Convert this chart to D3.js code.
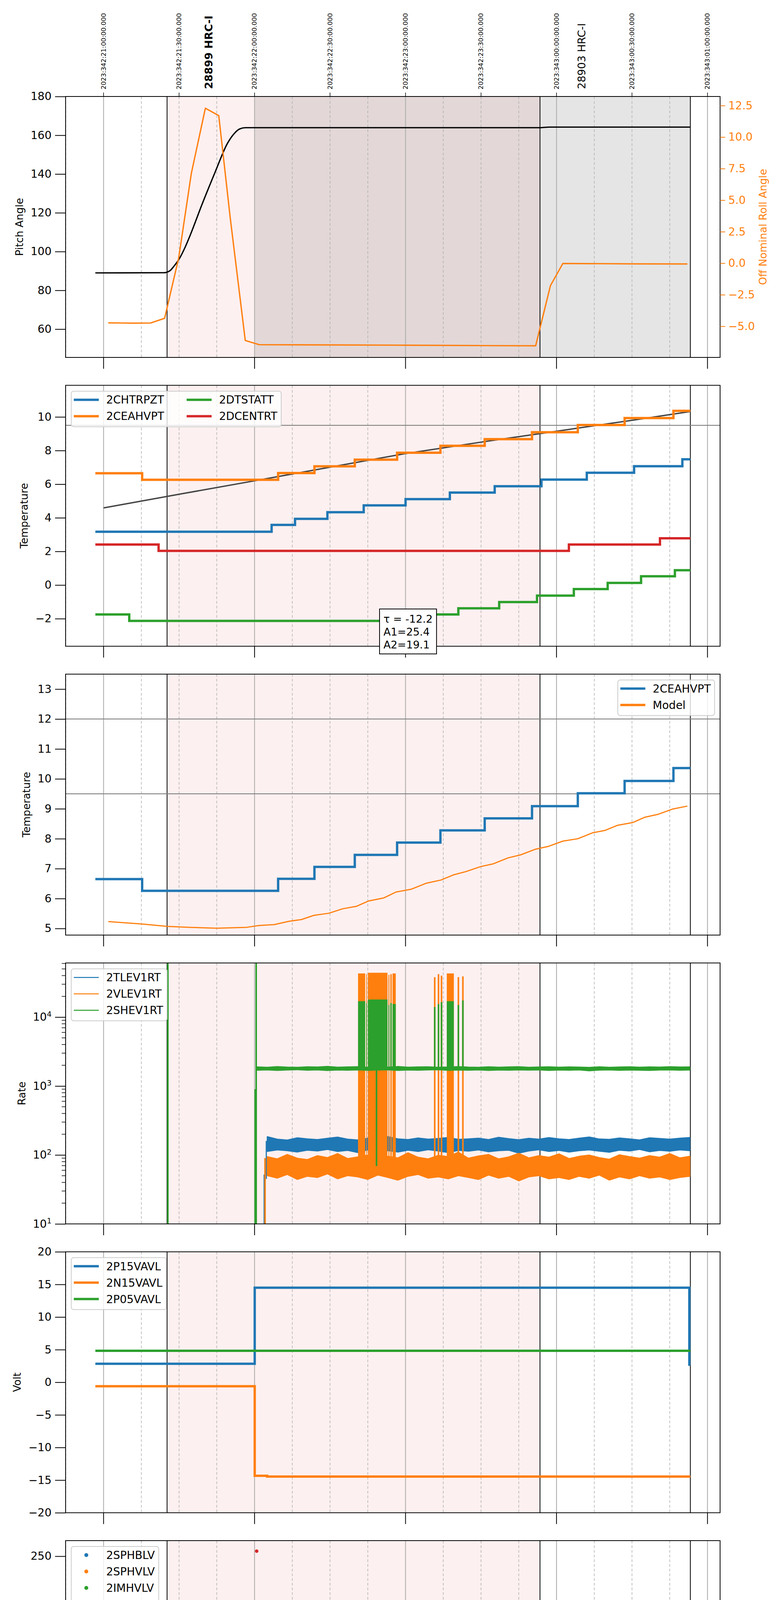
<!DOCTYPE html>
<html>
<head>
<meta charset="utf-8">
<script src="https://cdn.jsdelivr.net/npm/d3@7"></script>
<style>
  body { margin: 0; background: #fff; }
  svg { display: block; }
</style>
</head>
<body>
<div id="chart"></div>
<script>
// ---- time span and observation windows (local time, 2023-12-08) ----
const DATA_START = "15:56:44";
const DATA_END = "19:53:11";
const obsWindows = [
  { start: "16:25:14", end: "18:53:26", label: "28899 HRC-I", bold: true },
  { start: "18:53:26", end: "19:53:11", label: "28903 HRC-I", bold: false }
];
const pinkSpan = ["16:25:14", "18:53:26"];
const pitchGraySpan = ["17:00:00", "19:53:11"];
const topTickTimes = ["16:00", "16:30", "17:00", "17:30", "18:00", "18:30", "19:00", "19:30", "20:00"];
const topTickLabels = [
  "2023:342:21:00:00.000", "2023:342:21:30:00.000", "2023:342:22:00:00.000",
  "2023:342:22:30:00.000", "2023:342:23:00:00.000", "2023:342:23:30:00.000",
  "2023:343:00:00:00.000", "2023:343:00:30:00.000", "2023:343:01:00:00.000"
];
const xLabel = "2023-12-08 (342)";

// y limits of each panel
const yLimits = [[45.4, 180], [-3.64, 11.88], [4.78, 13.5], [10, 61000], [-20, 20], [0, 265.9], [1.74, 19.9], [-6.69, 5.33]];
const rollLimits = [-7.47, 13.22];

// ---- panel 1: pitch / roll ----
const pitch = [["15:56:44", 89.0], ["16:23:51", 89.1], ["16:26:14", 90.0], ["16:28:00", 92.5], ["16:30:11", 96.5],
  ["16:32:30", 102.5], ["16:34:36", 109.0], ["16:39:05", 124.2], ["16:44:24", 141.2], ["16:49:13", 155.8],
  ["16:52:00", 161.0], ["16:54:00", 163.2], ["16:56:18", 163.9], ["18:53:26", 163.9], ["18:57:00", 164.2],
  ["19:53:11", 164.2]];
const roll = [["16:01:53", -4.73], ["16:07:00", -4.74], ["16:12:00", -4.75], ["16:18:42", -4.74], ["16:24:15", -4.37],
  ["16:29:50", 0.4], ["16:34:53", 7.13], ["16:40:27", 12.29], ["16:45:47", 11.7], ["16:50:20", 3.6],
  ["16:56:19", -6.13], ["17:01:50", -6.46], ["17:30:00", -6.48], ["18:00:00", -6.5], ["18:30:00", -6.53],
  ["18:51:42", -6.55], ["18:57:35", -1.78], ["19:02:31", -0.02], ["19:30:00", -0.05], ["19:52:00", -0.06]];

// ---- panel 2: temperatures (step series) ----
const chtrpzt = [["15:56:44", 3.17], ["17:06:47", 3.58], ["17:16:05", 3.94], ["17:28:57", 4.33], ["17:43:23", 4.74],
  ["18:00:01", 5.11], ["18:17:37", 5.5], ["18:35:26", 5.88], ["18:54:01", 6.27], ["19:12:02", 6.68],
  ["19:30:50", 7.07], ["19:50:01", 7.48]];
const ceahvpt = [["15:56:44", 6.65], ["16:15:20", 6.26], ["17:09:22", 6.66], ["17:23:48", 7.06], ["17:39:50", 7.46],
  ["17:56:39", 7.87], ["18:13:52", 8.28], ["18:31:28", 8.68], ["18:50:16", 9.09], ["19:08:28", 9.52],
  ["19:27:04", 9.93], ["19:46:28", 10.36]];
const dtstatt = [["15:56:44", -1.75], ["16:10:12", -2.13], ["18:06:00", -1.75], ["18:20:59", -1.38], ["18:37:13", -1.01],
  ["18:52:15", -0.63], ["19:06:53", -0.24], ["19:20:20", 0.13], ["19:33:36", 0.52], ["19:47:03", 0.88]];
const dcentrt = [["15:56:44", 2.41], ["16:21:52", 2.03], ["19:04:55", 2.41], ["19:41:07", 2.78]];
const fitCurve = [["16:00:00", 4.59], ["16:30:00", 5.4], ["17:00:00", 6.2], ["17:30:00", 7.01], ["18:00:00", 7.82],
  ["18:30:00", 8.5], ["19:00:00", 9.15], ["19:30:00", 9.8], ["19:53:11", 10.32]];
const fitText = ["\u03c4 = -12.2", "A1=25.4", "A2=19.1"];
const fitTextAt = ["18:01:00", -2.76];

// ---- panel 3: 2CEAHVPT vs model ----
const model = [["16:01:53", 5.23], ["16:15:20", 5.15], ["16:25:14", 5.07], ["16:34:08", 5.04], ["16:45:01", 5.01],
  ["16:56:53", 5.04], ["17:01:50", 5.1], ["17:07:47", 5.13], ["17:13:43", 5.24], ["17:18:40", 5.3],
  ["17:23:36", 5.44], ["17:29:32", 5.51], ["17:35:05", 5.66], ["17:40:25", 5.74], ["17:45:22", 5.92],
  ["17:51:18", 6.02], ["17:56:15", 6.22], ["18:02:11", 6.31], ["18:08:07", 6.51], ["18:14:04", 6.62],
  ["18:19:00", 6.79], ["18:23:57", 6.9], ["18:29:54", 7.07], ["18:34:50", 7.16], ["18:40:46", 7.36],
  ["18:45:43", 7.46], ["18:51:39", 7.65], ["18:56:36", 7.74], ["19:02:32", 7.92], ["19:08:28", 8.0],
  ["19:14:25", 8.2], ["19:19:21", 8.28], ["19:24:18", 8.45], ["19:30:14", 8.54], ["19:35:11", 8.72],
  ["19:40:08", 8.81], ["19:46:04", 8.99], ["19:52:00", 9.09]];

// ---- panel 4: rates (noise bands sampled every 4 min, bursts, spikes) ----
const BAND_STEP = 4;
const tlevBand = { start: "17:05:00",
  hi: [185, 170, 165, 178, 172, 168, 175, 182, 170, 166, 176, 171, 185, 172, 168, 177, 170, 174, 180, 169, 172, 176,
    168, 181, 173, 167, 175, 170, 179, 172, 168, 176, 183, 171, 169, 177, 172, 166, 178, 174, 170, 176, 180],
  lo: [112, 118, 115, 110, 117, 114, 120, 112, 116, 108, 118, 113, 115, 110, 117, 112, 119, 114, 108, 116, 113, 118,
    111, 115, 117, 106, 114, 119, 112, 116, 110, 115, 118, 113, 109, 117, 114, 120, 111, 116, 113, 118, 115] };
const vlevBand = { start: "17:05:00",
  hi: [95, 88, 102, 90, 86, 98, 92, 105, 89, 94, 100, 87, 96, 91, 108, 93, 88, 99, 95, 110, 90, 97,
    102, 88, 94, 106, 91, 98, 93, 104, 89, 96, 100, 92, 87, 101, 95, 90, 98, 93, 105, 91, 96],
  lo: [50, 46, 52, 44, 49, 47, 53, 45, 50, 48, 44, 51, 47, 43, 49, 52, 46, 48, 45, 50, 47, 44,
    51, 46, 49, 42, 48, 50, 45, 47, 44, 49, 46, 51, 43, 48, 45, 50, 46, 48, 44, 47, 49] };
const shevBand = { start: "17:01:00",
  hi: [1900, 1880, 1920, 1890, 1875, 1910, 1895, 1930, 1885, 1900, 1915, 1880, 1905, 1890, 1925, 1885, 1900, 1910,
    1880, 1895, 1920, 1890, 1875, 1905, 1885, 1900, 1915, 1880, 1895, 1910, 1885, 1900, 1890, 1870, 1905, 1880,
    1895, 1910, 1885, 1900, 1890, 1915, 1895, 1900],
  lo: [1690, 1710, 1680, 1700, 1720, 1690, 1705, 1675, 1700, 1690, 1710, 1685, 1700, 1715, 1680, 1700, 1690, 1705,
    1720, 1685, 1700, 1690, 1710, 1680, 1700, 1690, 1705, 1695, 1710, 1680, 1700, 1690, 1705, 1660, 1695, 1710,
    1685, 1700, 1690, 1680, 1700, 1710, 1690, 1700] };
const tlevBlocks = [["17:45:04", "17:52:49", 150, 36000]];
const vlevBlocks = [["17:41:08", "17:43:58", 55, 43000], ["17:44:22", "17:44:40", 55, 42000], ["17:45:04", "17:52:49", 55, 44000],
  ["17:53:12", "17:53:35", 55, 41000], ["17:53:58", "17:54:31", 55, 42000], ["17:54:50", "17:56:07", 55, 43000],
  ["18:16:24", "18:19:12", 55, 43000]];
const shevBlocks = [["17:41:08", "17:43:58", 1800, 17000], ["17:44:22", "17:44:40", 1800, 16000], ["17:45:04", "17:52:49", 1800, 18000],
  ["17:53:12", "17:53:35", 1800, 15000], ["17:53:58", "17:54:31", 1800, 16000], ["17:54:50", "17:56:07", 1800, 15500],
  ["18:16:24", "18:19:12", 1800, 17000]];
const tlevSpikes = [["17:03:49", 10, 52], ["17:04:40", 45, 160]];
const vlevSpikes = [["17:00:25", 10, 900], ["17:04:10", 10, 90], ["18:11:36", 50, 38000], ["18:13:06", 50, 42000],
  ["18:14:18", 50, 40000], ["18:21:00", 50, 38000], ["18:22:48", 50, 39000]];
const shevSpikes = [["16:25:33", 10, 1e6], ["17:00:15", 10, 900], ["17:00:39", 10, 1e6], ["17:48:28", 69, 1800],
  ["18:11:36", 1800, 14000], ["18:13:06", 1800, 15500], ["18:14:18", 1800, 16500], ["18:21:00", 1800, 15000],
  ["18:22:48", 1800, 17500]];

// ---- panel 5: voltages ----
const p15vavl = [["15:56:44", 2.83], ["17:00:04", 14.5], ["19:52:47", 2.7]];
const n15vavl = [["15:56:44", -0.61], ["17:00:04", -14.33], ["17:05:00", -14.45]];
const p05vavl = [["15:56:44", 4.83]];

// ---- panel 6: HV monitor (points and long flat runs) ----
const sphblvPts = [];
const sphvlvPts = [];
const imhvlvPts = [["17:01:15", 99.9], ["17:01:50", 95.4], ["17:02:30", 91.0], ["17:03:00", 86.2], ["17:03:40", 83.6],
  ["17:04:20", 80.6], ["17:41:25", 127.2], ["17:43:00", 127.2], ["17:43:59", 127.2], ["17:45:22", 127.2],
  ["17:46:22", 127.2], ["18:13:28", 127.2], ["18:18:25", 127.2], ["18:19:12", 127.2], ["18:23:10", 127.2]];
const imhvlvRuns = [["17:04:49", "19:53:11", 79.1]];
const imhblvPts = [["17:00:51", 255.2], ["17:01:15", 127.2], ["17:01:17", 125.4], ["17:01:27", 119.1], ["17:01:30", 106.9],
  ["17:01:40", 104.3], ["17:01:58", 101.3], ["17:02:40", 97.6], ["17:03:20", 93.9], ["17:03:55", 91.0],
  ["17:04:20", 89.1], ["19:43:06", 87.5], ["17:41:25", 79.1], ["17:43:00", 79.1], ["17:43:59", 79.1],
  ["17:45:22", 79.1], ["17:46:22", 79.1], ["18:13:28", 79.1], ["18:18:48", 79.1], ["18:23:10", 79.1]];
const imhblvRuns = [["17:04:49", "19:53:11", 86.2]];

// ---- panel 7: detector temperatures ----
const spinatm = [["17:00:51", 4.14], ["17:04:49", 4.6], ["18:33:39", 5.03], ["19:19:57", 5.52]];
const spinatmBlocks = [["17:41:25", "17:56:39", 1.0, 4.6], ["18:16:26", "18:19:24", 1.0, 4.6], ["17:18:40", "17:20:10", 4.14, 4.6]];
const spinatmSpikes = [["18:11:29", 1.0, 4.6], ["18:13:52", 1.0, 4.6], ["18:14:40", 1.0, 4.6], ["18:23:10", 1.0, 4.6], ["17:22:40", 4.14, 4.6]];
const sphvatm = [["17:00:04", 15.56], ["17:56:39", 15.8], ["18:08:07", 16.1], ["18:25:20", 16.4], ["18:42:57", 16.7],
  ["18:59:10", 16.97], ["19:15:47", 17.25], ["19:31:37", 17.55], ["19:48:14", 17.8]];
const sphvatmBlocks = [["17:41:25", "17:56:39", 10.7, 16.2]];
const sphvatmSpikes = [["18:11:29", 11.4, 16.1], ["18:12:28", 11.4, 16.1], ["18:13:52", 11.4, 16.1], ["18:16:26", 11.4, 16.1],
  ["18:17:02", 11.4, 16.1], ["18:17:37", 11.4, 16.1], ["18:18:13", 11.4, 16.1], ["18:19:00", 11.4, 16.1],
  ["18:21:12", 11.4, 16.1], ["18:23:10", 11.4, 16.1], ["18:57:35", 16.7, 17.0], ["19:02:23", 16.7, 17.0]];
const iminatm = [["17:00:51", 3.26], ["18:20:59", 3.7], ["19:33:12", 4.15]];
const iminatmBlocks = [["17:41:25", "17:56:39", 3.26, 4.6]];
const iminatmSpikes = [["18:11:29", 3.26, 4.6], ["18:13:52", 3.26, 4.6], ["18:16:26", 3.26, 4.6], ["18:17:37", 3.26, 4.6],
  ["18:19:00", 3.26, 4.6], ["18:23:10", 3.26, 4.6]];
const imhvatm = [["17:00:04", 15.0], ["17:13:19", 15.28], ["17:20:26", 15.53], ["17:26:58", 15.81], ["17:34:41", 16.11],
  ["17:51:18", 16.6], ["18:01:35", 16.95], ["18:25:20", 17.5], ["18:39:23", 17.8], ["18:53:14", 18.1],
  ["19:07:29", 18.4], ["19:21:32", 18.7], ["19:37:10", 19.0]];
const imhvatmBlocks = [["17:41:25", "17:56:39", 15.56, 16.35]];
const imhvatmSpikes = [["16:59:40", 1.0, 15.0], ["17:00:04", 1.0, 15.0], ["18:12:05", 16.0, 17.3], ["18:13:10", 16.0, 17.3],
  ["18:14:30", 16.0, 17.3], ["18:16:00", 16.0, 17.3], ["18:16:50", 16.0, 17.3], ["18:17:40", 16.0, 17.3],
  ["18:18:40", 16.0, 17.3], ["18:20:00", 16.0, 17.3], ["18:21:10", 16.0, 17.3], ["18:22:20", 16.0, 17.3],
  ["18:23:30", 16.0, 17.3]];

// ---- panel 8: FEA temperatures ----
const fhtrmzt = [["15:56:44", -5.6], ["16:50:10", -5.98], ["17:01:50", -5.6], ["17:14:06", -5.2], ["17:21:02", -4.8],
  ["17:27:58", -4.43], ["17:34:29", -4.03], ["17:40:49", -3.66], ["17:47:21", -3.25], ["17:56:15", -2.89],
  ["18:01:12", -2.5], ["18:08:07", -2.13], ["18:15:03", -1.75], ["18:21:58", -1.37], ["18:29:30", -1.0],
  ["18:36:49", -0.62], ["18:44:44", -0.24], ["18:52:15", 0.13], ["19:00:10", 0.52], ["19:08:04", 0.9],
  ["19:16:23", 1.27], ["19:24:53", 1.64], ["19:33:48", 2.02], ["19:42:42", 2.4], ["19:51:37", 2.81]];
const fhtrmztSpikes = [["19:21:32", 1.27, 2.07]];
const fradpyt = [["17:18:30", -6.9], ["17:19:03", -6.38], ["17:24:47", -5.99], ["17:30:20", -5.6], ["17:36:52", -5.2],
  ["17:43:23", -4.81], ["17:49:55", -4.43], ["17:56:15", -4.03], ["18:03:11", -3.66], ["18:10:41", -3.27],
  ["18:19:24", -2.89], ["18:25:56", -2.5], ["18:33:27", -2.13], ["18:41:10", -1.75], ["18:49:05", -1.37],
  ["18:57:35", -1.0], ["19:08:04", -0.62], ["19:18:46", -0.24], ["19:28:16", 0.13], ["19:37:45", 0.52],
  ["19:47:39", 0.9]];
const fepratm = [["17:01:15", -4.61], ["17:02:50", -4.24], ["17:05:48", -3.84], ["17:08:46", -3.44], ["17:12:43", -3.04],
  ["17:16:41", -2.64], ["17:21:38", -2.26], ["17:28:10", -1.84], ["17:34:29", -1.39], ["17:41:01", -0.94],
  ["17:54:16", -0.2], ["18:01:35", 0.22], ["18:10:06", 0.67], ["18:18:37", 1.08], ["18:26:20", 1.49],
  ["18:34:50", 1.92], ["18:43:20", 2.36], ["18:52:15", 2.81], ["19:01:09", 3.25], ["19:10:51", 3.7],
  ["19:20:44", 4.15], ["19:31:13", 4.61], ["19:42:07", 5.06]];
const fepratmBlocks = [["17:41:01", "17:48:20", -4.65, -0.94], ["17:48:20", "17:56:39", -4.65, -0.57]];
const fepratmSpikes = [["18:11:29", -4.65, 0.67], ["18:13:52", -4.65, 0.67], ["18:18:25", -4.65, 0.67],
  ["18:18:49", -4.65, 1.08], ["18:23:10", -4.65, 1.08]];
const fe00atm = [["17:00:04", -3.47], ["17:07:23", -3.12], ["17:13:19", -2.77], ["17:18:28", -2.45], ["17:22:01", -2.09],
  ["17:27:34", -1.75], ["17:32:31", -1.43], ["17:37:04", -1.1], ["17:41:01", -0.9], ["17:54:16", -0.15],
  ["17:58:14", 0.19], ["18:02:47", 0.52], ["18:08:43", 0.83], ["18:12:05", 1.16], ["18:20:59", 1.43],
  ["18:25:20", 1.74], ["18:31:52", 2.06], ["18:37:25", 2.36], ["18:43:44", 2.66], ["18:49:40", 2.98],
  ["18:55:37", 3.25], ["19:01:56", 3.55], ["19:08:28", 3.83], ["19:15:47", 4.15], ["19:21:55", 4.42],
  ["19:29:15", 4.73], ["19:36:10", 5.0], ["19:43:06", 5.29]];
const fe00atmBlocks = [["17:41:01", "17:56:39", -0.9, 6]];
const fe00atmSpikes = [["16:59:40", -7, -3.47], ["17:00:04", -7, -3.47], ["17:17:40", -2.77, -1.75], ["17:22:01", -2.45, -1.75],
  ["17:48:20", -7, 6], ["18:11:29", 0.83, 6], ["18:12:40", 1.16, 6], ["18:16:26", 1.16, 6],
  ["18:17:37", 1.16, 6], ["18:19:24", 1.16, 6], ["18:21:23", 1.43, 6], ["18:23:10", 1.43, 6]];

// ---------------- drawing ----------------
const FONT = "DejaVu Sans, sans-serif";
const C = { blue: "#1f77b4", orange: "#ff7f0e", green: "#2ca02c", red: "#d62728" };
const W = 2000, H = 6200;
const M = { left: 168, right: 1844, top: 247 };
const PH = 668, STEP = 739.4;

const tm = s => { const p = s.split(":").map(Number); return p[0] * 60 + p[1] + (p[2] || 0) / 60; };

const svg = d3.select("#chart").append("svg").attr("width", W).attr("height", H)
  .style("font-family", FONT);
svg.append("rect").attr("width", W).attr("height", H).attr("fill", "#fff");

const t0 = tm(DATA_START), t1 = tm(DATA_END), tpad = (t1 - t0) * 0.05;
const x = d3.scaleLinear().domain([t0 - tpad, t1 + tpad]).range([M.left, M.right]);
const [xd0, xd1] = x.domain();
const hourTicks = d3.range(Math.ceil(xd0 / 60) * 60, xd1, 60);
const quarterTicks = d3.range(Math.ceil(xd0 / 15) * 15, xd1, 15).filter(m => m % 60 !== 0);

function makePanel(i, y, opt = {}) {
  const top = M.top + i * STEP, bot = top + PH;
  y.range([bot, top]);
  const id = "clip" + i;
  svg.append("clipPath").attr("id", id).append("rect")
    .attr("x", M.left).attr("y", top).attr("width", M.right - M.left).attr("height", PH);
  const g = svg.append("g");
  const back = g.append("g").attr("clip-path", `url(#${id})`);
  back.append("rect").attr("x", x(tm(pinkSpan[0]))).attr("y", top)
    .attr("width", x(tm(pinkSpan[1])) - x(tm(pinkSpan[0]))).attr("height", PH).attr("fill", "#fdf0f0");
  if (opt.gray) {
    back.append("rect").attr("x", x(tm(opt.gray[0]))).attr("y", top)
      .attr("width", x(tm(opt.gray[1])) - x(tm(opt.gray[0]))).attr("height", PH)
      .attr("fill", "#000").attr("fill-opacity", 0.1);
  }
  back.selectAll(".q").data(quarterTicks).enter().append("line")
    .attr("x1", d => x(d)).attr("x2", d => x(d)).attr("y1", top).attr("y2", bot)
    .attr("stroke", "#b0b0b0").attr("stroke-width", 1.5).attr("stroke-dasharray", "7,5");
  back.selectAll(".h").data(hourTicks).enter().append("line")
    .attr("x1", d => x(d)).attr("x2", d => x(d)).attr("y1", top).attr("y2", bot)
    .attr("stroke", "#b0b0b0").attr("stroke-width", 2.2);
  const edges = [obsWindows[0].start, obsWindows[1].start, obsWindows[1].end];
  back.selectAll(".o").data(edges).enter().append("line")
    .attr("x1", d => x(tm(d))).attr("x2", d => x(tm(d))).attr("y1", top).attr("y2", bot)
    .attr("stroke", "#000").attr("stroke-width", 2);
  (opt.hlines || []).forEach(v => {
    back.append("line").attr("x1", M.left).attr("x2", M.right).attr("y1", y(v)).attr("y2", y(v))
      .attr("stroke", "#808080").attr("stroke-width", 2.2);
  });
  const plot = g.append("g").attr("clip-path", `url(#${id})`);
  return { g, plot, y, top, bot, i };
}

function stepLine(p, steps, color, w, y = p.y) {
  const pts = steps.map(d => [tm(d[0]), d[1]]);
  pts.push([tm(DATA_END), steps[steps.length - 1][1]]);
  p.plot.append("path").datum(pts).attr("fill", "none").attr("stroke", color).attr("stroke-width", w)
    .attr("d", d3.line().x(d => x(d[0])).y(d => y(d[1])).curve(d3.curveStepAfter));
}
function polyLine(p, pts, color, w, y = p.y, curve = d3.curveLinear) {
  p.plot.append("path").datum(pts).attr("fill", "none").attr("stroke", color).attr("stroke-width", w)
    .attr("stroke-linejoin", "round")
    .attr("d", d3.line().x(d => x(tm(d[0]))).y(d => y(d[1])).curve(curve));
}
function blocks(p, list, color) {
  p.plot.selectAll(null).data(list).enter().append("rect")
    .attr("x", d => x(tm(d[0]))).attr("width", d => x(tm(d[1])) - x(tm(d[0])))
    .attr("y", d => p.y(d[3])).attr("height", d => p.y(d[2]) - p.y(d[3])).attr("fill", color);
}
function spikes(p, list, color, w) {
  p.plot.selectAll(null).data(list).enter().append("line")
    .attr("x1", d => x(tm(d[0]))).attr("x2", d => x(tm(d[0])))
    .attr("y1", d => p.y(d[1])).attr("y2", d => p.y(d[2]))
    .attr("stroke", color).attr("stroke-width", w);
}
function band(p, b, color) {
  const pts = b.hi.map((h, k) => ({ t: tm(b.start) + k * BAND_STEP, hi: h, lo: b.lo[k] }));
  p.plot.append("path").datum(pts).attr("fill", color).attr("stroke", color).attr("stroke-width", 2)
    .attr("stroke-linejoin", "bevel")
    .attr("d", d3.area().x(d => x(d.t)).y0(d => p.y(d.lo)).y1(d => p.y(d.hi)));
}

function styleAxis(ax, color = "#000", fs = 28) {
  ax.select(".domain").remove();
  ax.selectAll(".tick line").attr("stroke", color).attr("stroke-width", 2);
  ax.selectAll(".tick text").attr("fill", color).attr("font-size", fs).attr("font-family", FONT);
}
function leftAxis(p, ticks, fmt) {
  const ax = p.g.append("g").attr("transform", `translate(${M.left},0)`)
    .call(d3.axisLeft(p.y).tickValues(ticks).tickFormat(fmt).tickSize(27).tickPadding(9));
  styleAxis(ax);
  return ax;
}
function yLabel(p, ax, text) {
  const b = ax.node().getBBox(); // local to the axis group, which sits at M.left
  p.g.append("text").attr("transform", `translate(${M.left + b.x - 29},${(p.top + p.bot) / 2}) rotate(-90)`)
    .attr("text-anchor", "middle").attr("dominant-baseline", "central")
    .attr("font-size", 26.5).attr("fill", "#000").text(text);
}
function frame(p) {
  p.g.selectAll(null).data(hourTicks).enter().append("line")
    .attr("x1", d => x(d)).attr("x2", d => x(d)).attr("y1", p.bot).attr("y2", p.bot + 29)
    .attr("stroke", "#000").attr("stroke-width", 2);
  p.g.append("rect").attr("x", M.left).attr("y", p.top).attr("width", M.right - M.left).attr("height", PH)
    .attr("fill", "none").attr("stroke", "#000").attr("stroke-width", 2);
}
function legend(p, items, pos, ncol = 1) {
  const fs = 28, rowH = 42, padT = 22, padB = 27, padR = 10, tx = 89.5, colGap = 51;
  const lg = p.g.append("g");
  const probe = lg.append("text").attr("font-size", fs);
  const wid = items.map(d => { probe.text(d.label); return probe.node().getComputedTextLength(); });
  probe.remove();
  const nrow = Math.ceil(items.length / ncol);
  const colW = d3.range(ncol).map(c => tx + d3.max(wid.slice(c * nrow, c * nrow + nrow)));
  const bw = d3.sum(colW) + colGap * (ncol - 1) + padR;
  const bh = padT + (nrow - 1) * rowH + padB;
  const bx = pos[1] === "l" ? M.left + 14.5 : M.right - 14 - bw;
  const by = pos[0] === "u" ? p.top + 15 : pos[0] === "c" ? (p.top + p.bot) / 2 - bh / 2 : p.bot - 14 - bh;
  lg.append("rect").attr("x", bx).attr("y", by).attr("width", bw).attr("height", bh).attr("rx", 6)
    .attr("fill", "#fff").attr("fill-opacity", 0.8).attr("stroke", "#cccccc").attr("stroke-width", 2);
  items.forEach((d, k) => {
    const c = Math.floor(k / nrow), r = k % nrow;
    const cx = bx + d3.sum(colW.slice(0, c)) + colGap * c;
    const cy = by + padT + r * rowH;
    if (d.kind === "dot") {
      lg.append("circle").attr("cx", cx + 38.5).attr("cy", cy).attr("r", 5).attr("fill", d.color);
    } else {
      lg.append("line").attr("x1", cx + 6.5).attr("x2", cx + 70.5).attr("y1", cy).attr("y2", cy)
        .attr("stroke", d.color).attr("stroke-width", d.w || 6);
    }
    lg.append("text").attr("x", cx + tx).attr("y", cy + 10).attr("font-size", fs).attr("fill", "#000").text(d.label);
  });
}

// ---------- Panel 1: pitch & roll ----------
{
  const p = makePanel(0, d3.scaleLinear().domain(yLimits[0]), { gray: pitchGraySpan });
  const yr = d3.scaleLinear().domain(rollLimits).range([p.bot, p.top]);
  polyLine(p, pitch, "#000", 3.4, p.y, d3.curveMonotoneX);
  polyLine(p, roll, C.orange, 3.4, yr);
  frame(p);
  const ax = leftAxis(p, d3.range(60, 181, 20), d3.format("d"));
  yLabel(p, ax, "Pitch Angle");
  const axr = p.g.append("g").attr("transform", `translate(${M.right},0)`)
    .call(d3.axisRight(yr).tickValues(d3.range(-5, 12.6, 2.5)).tickFormat(d3.format(".1f")).tickSize(13).tickPadding(8));
  styleAxis(axr, C.orange);
  const br = axr.node().getBBox();
  p.g.append("text").attr("transform", `translate(${M.right + br.x + br.width + 20},${(p.top + p.bot) / 2}) rotate(-90)`)
    .attr("text-anchor", "middle").attr("dominant-baseline", "central")
    .attr("font-size", 26.5).attr("fill", C.orange).text("Off Nominal Roll Angle");
  // top time axis
  p.g.selectAll(null).data(topTickTimes).enter().append("line")
    .attr("x1", d => x(tm(d))).attr("x2", d => x(tm(d))).attr("y1", p.top).attr("y2", p.top - 10)
    .attr("stroke", "#000").attr("stroke-width", 1.5);
  p.g.selectAll(null).data(topTickTimes).enter().append("text")
    .attr("transform", d => `translate(${x(tm(d))},${p.top - 18}) rotate(-90)`)
    .attr("dominant-baseline", "central").attr("font-size", 16.5).attr("fill", "#000")
    .text((d, k) => topTickLabels[k]);
  p.g.selectAll(null).data(obsWindows).enter().append("text")
    .attr("transform", d => `translate(${x(tm(d.start) + 16.5)},${p.top - 19}) rotate(-90)`)
    .attr("dominant-baseline", "central").attr("font-size", 27)
    .attr("font-weight", d => d.bold ? "bold" : "normal").attr("fill", "#000")
    .text(d => d.label);
}

// ---------- Panel 2: temperatures ----------
{
  const p = makePanel(1, d3.scaleLinear().domain(yLimits[1]), { hlines: [9.5] });
  polyLine(p, fitCurve, "#444", 3.5);
  stepLine(p, chtrpzt, C.blue, 6);
  stepLine(p, ceahvpt, C.orange, 6);
  stepLine(p, dtstatt, C.green, 6);
  stepLine(p, dcentrt, C.red, 6);
  frame(p);
  const ax = leftAxis(p, d3.range(-2, 10.1, 2), d3.format("d"));
  yLabel(p, ax, "Temperature");
  legend(p, [
    { label: "2CHTRPZT", color: C.blue }, { label: "2CEAHVPT", color: C.orange },
    { label: "2DTSTATT", color: C.green }, { label: "2DCENTRT", color: C.red }
  ], "ul", 2);
  // fit parameter box
  const ann = p.g.append("g");
  const lines = ann.selectAll(null).data(fitText).enter().append("text")
    .attr("font-size", 27).attr("fill", "#000").text(d => d);
  const tw = d3.max(lines.nodes(), n => n.getComputedTextLength());
  const cx = x(tm(fitTextAt[0])), cy = p.y(fitTextAt[1]);
  const bw = tw + 20, bh = fitText.length * 33 + 16;
  ann.insert("rect", "text").attr("x", cx - bw / 2).attr("y", cy - bh / 2).attr("width", bw).attr("height", bh)
    .attr("fill", "#fff").attr("stroke", "#000").attr("stroke-width", 2);
  lines.attr("x", cx - bw / 2 + 10).attr("y", (d, k) => cy + (k - 1) * 33 + 10);
}

// ---------- Panel 3: 2CEAHVPT vs model ----------
{
  const p = makePanel(2, d3.scaleLinear().domain(yLimits[2]), { hlines: [12, 9.5] });
  stepLine(p, ceahvpt, C.blue, 6);
  polyLine(p, model, C.orange, 3);
  frame(p);
  const ax = leftAxis(p, d3.range(5, 13.1, 1), d3.format("d"));
  yLabel(p, ax, "Temperature");
  legend(p, [{ label: "2CEAHVPT", color: C.blue }, { label: "Model", color: C.orange }], "ur");
}

// ---------- Panel 4: rates ----------
{
  const p = makePanel(3, d3.scaleLog().domain(yLimits[3]));
  band(p, tlevBand, C.blue); blocks(p, tlevBlocks, C.blue); spikes(p, tlevSpikes, C.blue, 3);
  band(p, vlevBand, C.orange); blocks(p, vlevBlocks, C.orange); spikes(p, vlevSpikes, C.orange, 4);
  band(p, shevBand, C.green); blocks(p, shevBlocks, C.green); spikes(p, shevSpikes, C.green, 4);
  frame(p);
  const [lo, hi] = p.y.domain();
  const minor = [];
  for (let e = 1; e < 5; e++) for (let m = 2; m < 10; m++) { const v = m * 10 ** e; if (v > lo && v < hi) minor.push(v); }
  p.g.selectAll(null).data(minor).enter().append("line")
    .attr("x1", M.left - 10).attr("x2", M.left).attr("y1", d => p.y(d)).attr("y2", d => p.y(d))
    .attr("stroke", "#000").attr("stroke-width", 1.5);
  const ax = leftAxis(p, [10, 100, 1000, 10000], d => d);
  ax.selectAll(".tick text").each(function (d) {
    const t = d3.select(this).text("");
    t.append("tspan").text("10");
    t.append("tspan").attr("dy", "-0.55em").attr("font-size", 19).text(Math.round(Math.log10(d)));
  });
  yLabel(p, ax, "Rate");
  legend(p, [
    { label: "2TLEV1RT", color: C.blue, w: 2.5 }, { label: "2VLEV1RT", color: C.orange, w: 2.5 },
    { label: "2SHEV1RT", color: C.green, w: 2.5 }
  ], "ul");
}

// ---------- Panel 5: voltages ----------
{
  const p = makePanel(4, d3.scaleLinear().domain(yLimits[4]));
  stepLine(p, p15vavl, C.blue, 6);
  stepLine(p, n15vavl, C.orange, 6);
  stepLine(p, p05vavl, C.green, 6);
  frame(p);
  const ax = leftAxis(p, d3.range(-20, 20.1, 5), d3.format("d"));
  yLabel(p, ax, "Volt");
  legend(p, [
    { label: "2P15VAVL", color: C.blue }, { label: "2N15VAVL", color: C.orange }, { label: "2P05VAVL", color: C.green }
  ], "ul");
}

// ---------- Panel 6: HV monitor ----------
{
  const p = makePanel(5, d3.scaleLinear().domain(yLimits[5]));
  const runs = (list, color) => p.plot.selectAll(null).data(list).enter().append("line")
    .attr("x1", d => x(tm(d[0]))).attr("x2", d => x(tm(d[1]))).attr("y1", d => p.y(d[2])).attr("y2", d => p.y(d[2]))
    .attr("stroke", color).attr("stroke-width", 10).attr("stroke-linecap", "round").attr("stroke-dasharray", "0,5");
  const dots = (list, color) => p.plot.selectAll(null).data(list).enter().append("circle")
    .attr("cx", d => x(tm(d[0]))).attr("cy", d => p.y(d[1])).attr("r", 4.5).attr("fill", color);
  dots(sphblvPts, C.blue);
  dots(sphvlvPts, C.orange);
  runs(imhvlvRuns, C.green); dots(imhvlvPts, C.green);
  runs(imhblvRuns, C.red); dots(imhblvPts, C.red);
  frame(p);
  const ax = leftAxis(p, d3.range(0, 251, 50), d3.format("d"));
  yLabel(p, ax, "HV Monitor");
  legend(p, [
    { label: "2SPHBLV", color: C.blue, kind: "dot" }, { label: "2SPHVLV", color: C.orange, kind: "dot" },
    { label: "2IMHVLV", color: C.green, kind: "dot" }, { label: "2IMHBLV", color: C.red, kind: "dot" }
  ], "ul");
}

// ---------- Panel 7: detector temperatures ----------
{
  const p = makePanel(6, d3.scaleLinear().domain(yLimits[6]));
  blocks(p, spinatmBlocks, C.blue); spikes(p, spinatmSpikes, C.blue, 6); stepLine(p, spinatm, C.blue, 6);
  blocks(p, sphvatmBlocks, C.orange); spikes(p, sphvatmSpikes, C.orange, 6); stepLine(p, sphvatm, C.orange, 6);
  blocks(p, iminatmBlocks, C.green); spikes(p, iminatmSpikes, C.green, 6); stepLine(p, iminatm, C.green, 6);
  blocks(p, imhvatmBlocks, C.red); spikes(p, imhvatmSpikes, C.red, 6); stepLine(p, imhvatm, C.red, 6);
  frame(p);
  const ax = leftAxis(p, d3.range(2.5, 17.6, 2.5), d3.format(".1f"));
  yLabel(p, ax, "Detector Temp");
  legend(p, [
    { label: "2SPINATM", color: C.blue }, { label: "2SPHVATM", color: C.orange },
    { label: "2IMINATM", color: C.green }, { label: "2IMHVATM", color: C.red }
  ], "cr");
}

// ---------- Panel 8: FEA temperatures ----------
{
  const p = makePanel(7, d3.scaleLinear().domain(yLimits[7]));
  stepLine(p, fhtrmzt, C.blue, 6); spikes(p, fhtrmztSpikes, C.blue, 6);
  stepLine(p, fradpyt, C.orange, 6);
  stepLine(p, fepratm, C.green, 6); blocks(p, fepratmBlocks, C.green); spikes(p, fepratmSpikes, C.green, 6);
  stepLine(p, fe00atm, C.red, 6); blocks(p, fe00atmBlocks, C.red); spikes(p, fe00atmSpikes, C.red, 6);
  frame(p);
  const ax = leftAxis(p, d3.range(-6, 4.1, 2), d3.format("d"));
  yLabel(p, ax, "FEA Temp");
  legend(p, [
    { label: "2FHTRMZT", color: C.blue }, { label: "2FRADPYT", color: C.orange },
    { label: "2FEPRATM", color: C.green }, { label: "2FE00ATM", color: C.red }
  ], "lr");
  // bottom time labels
  p.g.selectAll(null).data(quarterTicks).enter().append("text")
    .attr("x", d => x(d)).attr("y", p.bot + 21).attr("text-anchor", "middle")
    .attr("font-size", 18).attr("fill", "#000").text(d => String(d % 60));
  p.g.selectAll(null).data(hourTicks).enter().append("text")
    .attr("x", d => x(d)).attr("y", p.bot + 60).attr("text-anchor", "middle")
    .attr("font-size", 27).attr("fill", "#000").text(d => `${d / 60}h`);
  p.g.append("text").attr("x", (M.left + M.right) / 2).attr("y", p.bot + 97).attr("text-anchor", "middle")
    .attr("font-size", 30).attr("fill", "#000").text(xLabel);
}
</script>
</body>
</html>
